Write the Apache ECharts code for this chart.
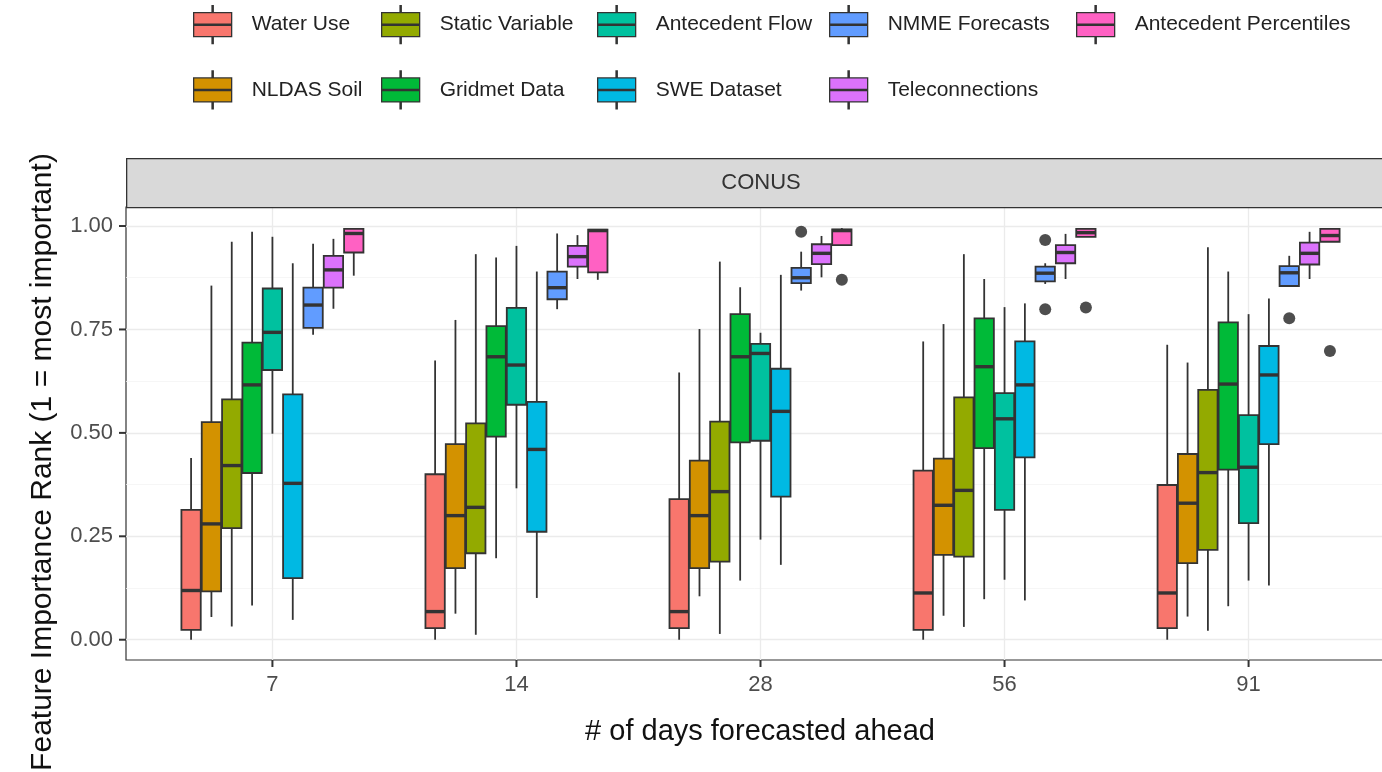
<!DOCTYPE html>
<html>
<head>
<meta charset="utf-8">
<title>Feature importance rank by lead time</title>
<script src="https://cdn.jsdelivr.net/npm/echarts@6/dist/echarts.min.js"></script>
<style>
  html, body { margin: 0; padding: 0; background: #fff; }
  #chart { width: 1382px; height: 772px; }
</style>
</head>
<body>
<div id="chart"></div>
<script>
// lead times on the x axis
var days = ['7', '14', '28', '56', '91'];

// box stats per lead time: [min, q1, median, q3, max]
var waterUse = [[0.0, 0.024, 0.119, 0.314, 0.439], [0.0, 0.028, 0.068, 0.400, 0.675], [0.0, 0.028, 0.068, 0.340, 0.646], [0.0, 0.024, 0.113, 0.409, 0.721], [0.0, 0.028, 0.113, 0.374, 0.713]];
var nldasSoil = [[0.055, 0.117, 0.280, 0.526, 0.856], [0.063, 0.173, 0.300, 0.473, 0.773], [0.105, 0.173, 0.300, 0.433, 0.751], [0.058, 0.205, 0.325, 0.438, 0.763], [0.056, 0.185, 0.330, 0.449, 0.670]];
var staticVar = [[0.032, 0.270, 0.421, 0.581, 0.962], [0.012, 0.209, 0.320, 0.523, 0.932], [0.014, 0.189, 0.358, 0.527, 0.914], [0.031, 0.201, 0.361, 0.586, 0.932], [0.022, 0.217, 0.404, 0.604, 0.949]];
var gridmet = [[0.083, 0.403, 0.616, 0.718, 0.986], [0.197, 0.491, 0.684, 0.758, 0.924], [0.143, 0.477, 0.684, 0.787, 0.852], [0.098, 0.463, 0.660, 0.777, 0.872], [0.081, 0.411, 0.618, 0.767, 0.890]];
var antFlow = [[0.498, 0.652, 0.743, 0.849, 0.974], [0.366, 0.568, 0.664, 0.802, 0.952], [0.242, 0.481, 0.692, 0.715, 0.742], [0.145, 0.314, 0.534, 0.596, 0.804], [0.143, 0.282, 0.417, 0.543, 0.787]];
var swe = [[0.048, 0.149, 0.378, 0.593, 0.910], [0.101, 0.261, 0.460, 0.575, 0.890], [0.181, 0.346, 0.552, 0.655, 0.882], [0.095, 0.441, 0.616, 0.721, 0.813], [0.131, 0.473, 0.640, 0.710, 0.825]];
var nmme = [[0.737, 0.754, 0.809, 0.851, 0.957], [0.799, 0.823, 0.851, 0.890, 0.982], [0.844, 0.862, 0.875, 0.899, 0.938], [0.860, 0.866, 0.886, 0.902, 0.910], [0.855, 0.855, 0.887, 0.903, 0.928]];
var telecon = [[0.800, 0.851, 0.894, 0.928, 0.969], [0.872, 0.902, 0.926, 0.952, 0.978], [0.876, 0.908, 0.934, 0.956, 0.976], [0.872, 0.910, 0.936, 0.954, 0.981], [0.872, 0.907, 0.934, 0.960, 0.986]];
var antPct = [[0.880, 0.936, 0.982, 0.993, 0.995], [0.870, 0.888, 0.989, 0.991, 0.992], [0.952, 0.954, 0.989, 0.992, 0.995], [0.974, 0.974, 0.984, 0.993, 0.995], [0.962, 0.962, 0.977, 0.993, 0.995]];

// outliers: [lead time index, value]
var nmmeOutliers = [[2, 0.986], [3, 0.966], [3, 0.799], [4, 0.777]];
var antPctOutliers = [[2, 0.870], [3, 0.803], [4, 0.698]];

var xTicks = [1, 2, 3, 4, 5];
var yTicks = [0, 0.25, 0.5, 0.75, 1];
var yMinorTicks = [0.125, 0.375, 0.625, 0.875];

var features = [
    { name: 'Water Use', color: '#F8766D', stats: waterUse },
    { name: 'NLDAS Soil', color: '#D39200', stats: nldasSoil },
    { name: 'Static Variable', color: '#93AA00', stats: staticVar },
    { name: 'Gridmet Data', color: '#00BA38', stats: gridmet },
    { name: 'Antecedent Flow', color: '#00C19F', stats: antFlow },
    { name: 'SWE Dataset', color: '#00B9E3', stats: swe },
    { name: 'NMME Forecasts', color: '#619CFF', stats: nmme, outliers: nmmeOutliers },
    { name: 'Teleconnections', color: '#DB72FB', stats: telecon },
    { name: 'Antecedent Percentiles', color: '#FF61C3', stats: antPct, outliers: antPctOutliers }
];

var FONT = '"Liberation Sans", Arial, sans-serif';
var DODGE = 0.75 / features.length;
var INK = '#333333';
var X_MIN = 0.4, X_MAX = 5.6;
var Y_MIN = -0.049, Y_MAX = 1.046;
var TICK_LEN = 7;

function slotX(group, slot) {
    return group + 1 + (slot - (features.length - 1) / 2) * DODGE;
}

function boxRenderer(slot) {
    return function (params, api) {
        var x = slotX(api.value(0), slot);
        var lo = api.coord([x, api.value(1)]);
        var q1 = api.coord([x, api.value(2)]);
        var md = api.coord([x, api.value(3)]);
        var q3 = api.coord([x, api.value(4)]);
        var hi = api.coord([x, api.value(5)]);
        var w = api.size([DODGE, 0])[0] - 1;
        var thin = { stroke: INK, lineWidth: 1.8 };
        return {
            type: 'group',
            children: [
                { type: 'line', shape: { x1: lo[0], y1: lo[1], x2: q1[0], y2: q1[1] }, style: thin },
                { type: 'line', shape: { x1: q3[0], y1: q3[1], x2: hi[0], y2: hi[1] }, style: thin },
                { type: 'rect', shape: { x: q3[0] - w / 2, y: q3[1], width: w, height: q1[1] - q3[1] },
                  style: { fill: api.visual('color'), stroke: INK, lineWidth: 1.8 } },
                { type: 'line', shape: { x1: md[0] - w / 2, y1: md[1], x2: md[0] + w / 2, y2: md[1] },
                  style: { stroke: INK, lineWidth: 3.4 } }
            ]
        };
    };
}

// short tick marks outside the panel, placed through the axes
function xTickRenderer(params, api) {
    var p = api.coord([api.value(0), Y_MIN]);
    return { type: 'line', z2: 10, shape: { x1: p[0], y1: p[1], x2: p[0], y2: p[1] + TICK_LEN }, style: { stroke: INK, lineWidth: 2 } };
}
function yTickRenderer(params, api) {
    var p = api.coord([X_MIN, api.value(1)]);
    return { type: 'line', z2: 10, shape: { x1: p[0] - TICK_LEN, y1: p[1], x2: p[0], y2: p[1] }, style: { stroke: INK, lineWidth: 2 } };
}

var series = [];
features.forEach(function (f, slot) {
    series.push({
        name: f.name,
        type: 'custom',
        renderItem: boxRenderer(slot),
        itemStyle: { color: f.color },
        data: f.stats.map(function (s, g) { return [g].concat(s); }),
        z: 3
    });
    if (f.outliers) {
        series.push({
            name: f.name + ' outliers',
            type: 'scatter',
            symbolSize: 12,
            itemStyle: { color: '#222' },
            data: f.outliers.map(function (o) { return [slotX(o[0], slot), o[1]]; }),
            z: 4
        });
    }
});
series.push({
    name: 'x ticks', type: 'custom', silent: true, clip: false, z: 6,
    renderItem: xTickRenderer,
    data: xTicks.map(function (v) { return [v, Y_MIN]; })
});
series.push({
    name: 'y ticks', type: 'custom', silent: true, clip: false, z: 6,
    renderItem: yTickRenderer,
    data: yTicks.map(function (v) { return [X_MIN, v]; })
});

// legend laid out column by column like ggplot
var legendCols = [
    { left: 193, names: ['Water Use', 'NLDAS Soil'] },
    { left: 381, names: ['Static Variable', 'Gridmet Data'] },
    { left: 597, names: ['Antecedent Flow', 'SWE Dataset'] },
    { left: 829, names: ['NMME Forecasts', 'Teleconnections'] },
    { left: 1076, names: ['Antecedent Percentiles'] }
];
var keyIcon = 'path://M18.4,0H19.6V7H18.4Z M0,7H38V18.4H0Z M0,19.6H38V31H0Z M18.4,31H19.6V38H18.4Z';

var legends = legendCols.map(function (c) {
    return {
        left: c.left,
        top: 5,
        orient: 'vertical',
        padding: 0,
        itemGap: 26,
        itemWidth: 38,
        itemHeight: 38,
        icon: keyIcon,
        selectedMode: false,
        itemStyle: { borderColor: INK, borderWidth: 1.3 },
        textStyle: { fontFamily: FONT, fontSize: 21, color: '#222', padding: [0, 0, 0, 15] },
        data: c.names
    };
});

var chart = echarts.init(document.getElementById('chart'));
chart.setOption({
    backgroundColor: '#fff',
    animation: false,
    legend: legends,
    // the panel runs past the right edge of the picture, as in the reference
    grid: {
        left: 126, width: 1269, top: 207, height: 453,
        outerBoundsMode: 'none', containLabel: false,
        show: true, borderColor: INK, borderWidth: 1.2
    },
    xAxis: {
        type: 'value',
        min: X_MIN,
        max: X_MAX,
        axisLine: { show: false, onZero: false },
        axisTick: { show: false, customValues: xTicks },
        axisLabel: {
            customValues: xTicks,
            formatter: function (v) { return days[Math.round(v) - 1]; },
            fontFamily: FONT, fontSize: 22, color: '#4d4d4d', margin: 14
        },
        splitLine: { show: true, lineStyle: { color: '#ebebeb', width: 1.3 } }
    },
    yAxis: [{
        type: 'value',
        min: Y_MIN,
        max: Y_MAX,
        axisLine: { show: false, onZero: false },
        axisTick: { show: false, customValues: yTicks },
        axisLabel: {
            customValues: yTicks,
            formatter: function (v) { return v.toFixed(2); },
            fontFamily: FONT, fontSize: 22, color: '#4d4d4d', margin: 13
        },
        splitLine: { show: true, lineStyle: { color: '#ebebeb', width: 1.3 } }
    }, {
        type: 'value',
        min: Y_MIN,
        max: Y_MAX,
        axisLine: { show: false },
        axisTick: { show: false, customValues: yMinorTicks },
        axisLabel: { show: false, customValues: yMinorTicks },
        splitLine: { show: true, lineStyle: { color: '#f4f4f4', width: 0.8 } }
    }],
    graphic: [
        { type: 'rect', left: 126, top: 158, z: 10,
          shape: { width: 1300, height: 49 },
          style: { fill: '#d9d9d9', stroke: INK, lineWidth: 1.3 } },
        { type: 'text', x: 761, y: 183, z: 11,
          style: { text: 'CONUS', fontFamily: FONT, fontSize: 22, fill: '#333', align: 'center', verticalAlign: 'middle' } },
        { type: 'text', x: 760, y: 732, z: 11,
          style: { text: '# of days forecasted ahead', fontFamily: FONT, fontSize: 29, fill: '#111', align: 'center', verticalAlign: 'middle' } },
        { type: 'text', x: 43, y: 462, rotation: Math.PI / 2, z: 11,
          style: { text: 'Feature Importance Rank (1 = most important)', fontFamily: FONT, fontSize: 30, fill: '#111', align: 'center', verticalAlign: 'middle' } }
    ],
    series: series
});
</script>
</body>
</html>
